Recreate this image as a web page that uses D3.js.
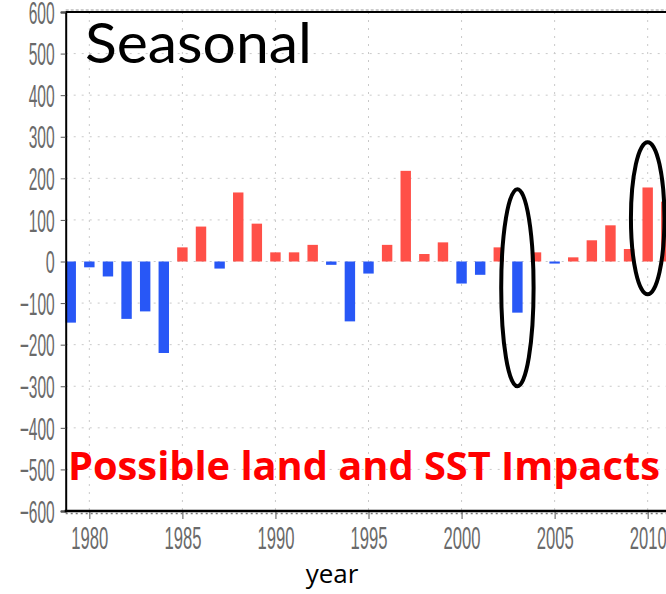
<!DOCTYPE html>
<html>
<head>
<meta charset="utf-8">
<script src="https://cdn.jsdelivr.net/npm/d3@7"></script>
<style>
  html, body { margin: 0; padding: 0; background: #fff; }
  svg { display: block; }
</style>
</head>
<body>
<svg id="chart" width="666" height="594"></svg>
<script>
// Seasonal anomaly per year
const years = d3.range(1979, 2012);
const values = [
  -147, -14, -36, -138, -120, -220, 34, 84, -17, 166,
  91, 22, 22, 40, -8, -144, -29, 40, 218, 18,
  46, -53, -32, 34, -123, 22, -5, 10, 51, 87,
  30, 178, 144
];
const yTicks = [-600, -500, -400, -300, -200, -100, 0, 100, 200, 300, 400, 500, 600];
const xTicks = [1980, 1985, 1990, 1995, 2000, 2005, 2010];
// highlighted years: [year, centre value, half-width in years, half-height in value]
const highlights = [
  [2003, -63, 0.87, 237],
  [2010, 104, 0.9, 183]
];
const titleText = "Seasonal";
const noteText = "Possible land and SST Impacts";
const xTitle = "year";

const svg = d3.select("#chart");
const W = 666, H = 594;

const x = d3.scaleLinear().domain([1978.73, 2012]).range([65.7, 684.9]);
const y = d3.scaleLinear().domain([-600, 600]).range([511, 12]);

const plotLeft = x(1978.73), plotTop = y(600), plotBottom = y(-600);

// grid
const grid = svg.append("g").attr("stroke", "#c9c9c9").attr("stroke-width", 1)
  .attr("stroke-dasharray", "2,6");
grid.selectAll("line.h").data(yTicks.filter(v => v > -600 && v < 600)).join("line")
  .attr("x1", plotLeft).attr("x2", W)
  .attr("y1", d => y(d)).attr("y2", d => y(d));
grid.selectAll("line.v").data(xTicks).join("line")
  .attr("x1", d => x(d)).attr("x2", d => x(d))
  .attr("y1", plotTop).attr("y2", plotBottom);

// bars
const bw = 0.56;
svg.append("g").selectAll("rect").data(years).join("rect")
  .attr("x", (d) => x(d - bw / 2))
  .attr("width", x(bw) - x(0))
  .attr("y", (d, i) => y(Math.max(0, values[i])))
  .attr("height", (d, i) => Math.abs(y(values[i]) - y(0)))
  .attr("fill", (d, i) => values[i] >= 0 ? "#ff5048" : "#2857f6");

// highlight ellipses
svg.append("g").selectAll("ellipse").data(highlights).join("ellipse")
  .attr("cx", d => x(d[0]))
  .attr("cy", d => y(d[1]))
  .attr("rx", d => x(d[2]) - x(0))
  .attr("ry", d => y(0) - y(d[3]))
  .attr("fill", "none")
  .attr("stroke", "#000")
  .attr("stroke-width", 4);

// frame lines
svg.append("line").attr("x1", plotLeft).attr("x2", W).attr("y1", plotTop).attr("y2", plotTop)
  .attr("stroke", "#000").attr("stroke-width", 2);
svg.append("line").attr("x1", plotLeft).attr("x2", W).attr("y1", plotTop - 2).attr("y2", plotTop - 2)
  .attr("stroke", "#999").attr("stroke-width", 1).attr("stroke-dasharray", "3,2");

const tickFont = "'Liberation Sans Narrow', 'Liberation Sans', sans-serif";

// y axis
const yAxis = d3.axisLeft(y).tickValues(yTicks).tickSize(5).tickPadding(6)
  .tickFormat(d => d < 0 ? "\u2212" + Math.abs(d) : String(d));
const gy = svg.append("g").attr("transform", `translate(${plotLeft},0)`).call(yAxis);
gy.select(".domain").attr("stroke", "#000").attr("stroke-width", 2);
gy.selectAll(".tick line").attr("stroke", "#555");
gy.selectAll(".tick text")
  .attr("font-family", tickFont)
  .attr("font-size", 31)
  .attr("fill", "#6a6a6a")
  .attr("dy", "0.36em")
  .attr("textLength", d => d < 0 ? 35 : (d === 0 ? 9 : 26))
  .attr("lengthAdjust", "spacingAndGlyphs");

// x axis
const xAxis = d3.axisBottom(x).tickValues(xTicks).tickSize(8).tickPadding(8).tickFormat(d3.format("d"));
const gx = svg.append("g").attr("transform", `translate(0,${plotBottom})`).call(xAxis);
gx.select(".domain").remove();
gx.selectAll(".tick line").attr("stroke", "#555");
gx.selectAll(".tick text")
  .attr("font-family", tickFont)
  .attr("font-size", 31)
  .attr("fill", "#6a6a6a")
  .attr("textLength", 37)
  .attr("lengthAdjust", "spacingAndGlyphs");
svg.append("line").attr("x1", plotLeft - 1).attr("x2", W).attr("y1", plotBottom).attr("y2", plotBottom)
  .attr("stroke", "#000").attr("stroke-width", 2.5);
svg.append("line").attr("x1", plotLeft).attr("x2", W).attr("y1", plotBottom + 2.5).attr("y2", plotBottom + 2.5)
  .attr("stroke", "#777").attr("stroke-width", 1.5).attr("stroke-dasharray", "2,3");

// titles
svg.append("text").attr("x", 85).attr("y", 63)
  .attr("font-family", "Lato, 'Open Sans', sans-serif")
  .attr("font-size", 57).attr("fill", "#000")
  .attr("textLength", 227).attr("lengthAdjust", "spacingAndGlyphs")
  .text(titleText);
svg.append("text").attr("x", 68).attr("y", 480)
  .attr("font-family", "'Open Sans', Lato, sans-serif")
  .attr("font-weight", "bold")
  .attr("font-size", 39).attr("fill", "#ff0000")
  .attr("textLength", 592).attr("lengthAdjust", "spacingAndGlyphs")
  .text(noteText);
svg.append("text").attr("x", 332).attr("y", 583).attr("text-anchor", "middle")
  .attr("font-family", "'Open Sans', Lato, sans-serif")
  .attr("font-size", 26).attr("fill", "#000")
  .text(xTitle);
</script>
</body>
</html>
